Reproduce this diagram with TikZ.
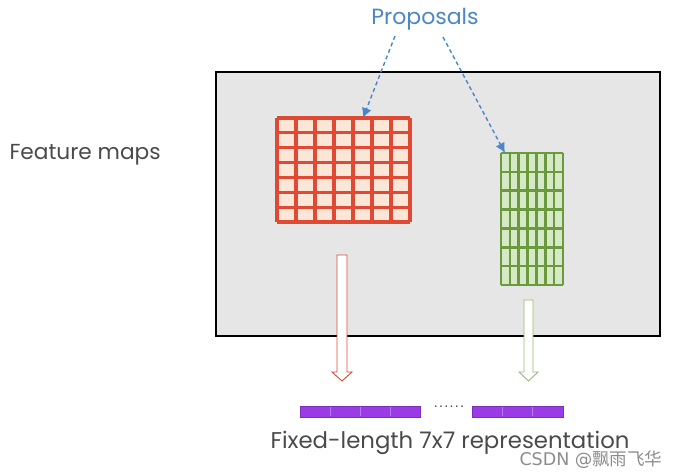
\documentclass[tikz,border=0pt]{standalone}
\usepackage{fontspec}
\setmainfont{Poppins}
\newfontfamily\cjk{Noto Sans CJK SC}
\newfontfamily\wmfont{DejaVu Sans}
\usetikzlibrary{arrows.meta}
\definecolor{bgray}{HTML}{E6E6E6}
\definecolor{gred}{HTML}{E04A35}
\definecolor{gredfill}{HTML}{FCE6D8}
\definecolor{ggreen}{HTML}{6B9A3E}
\definecolor{ggreenfill}{HTML}{D6E9C6}
\definecolor{pblue}{HTML}{4A86C8}
\definecolor{ppurple}{HTML}{9B3BE6}
\definecolor{pline}{HTML}{B77AF0}
\definecolor{tgray}{HTML}{4A4A4A}
\tikzset{
  dasharrow/.style={draw=pblue, line width=1.4pt, dash pattern=on 4pt off 3pt, -{Latex[length=10pt,width=10pt]}},
  hollowred/.style={draw=gred, fill=white, line width=0.9pt},
  hollowgreen/.style={draw=ggreen!70, fill=white, line width=0.9pt},
  bar/.style={fill=ppurple, draw=ppurple!80!black, line width=0.6pt},
  redline/.style={gred, line width=3.2pt},
  greenline/.style={ggreen, line width=2.6pt},
}
\begin{document}
\begin{tikzpicture}[x=1pt,y=-1pt]
\useasboundingbox (0,0) rectangle (678,476);
% feature map frame
\node[draw=black, line width=1.8pt, fill=bgray, minimum width=444pt, minimum height=264pt, inner sep=0pt, anchor=north west] (fm) at (215,71) {};
% red grid
\node[anchor=north west, minimum width=133pt, minimum height=104pt, inner sep=0pt, fill=gredfill] (rg) at (277,118) {};
\foreach \i in {0,...,7} {
  \draw[redline] (277+\i*19,118) -- (277+\i*19,222);
  \draw[redline] (277,118+\i*14.857) -- (410,118+\i*14.857);
}
% green grid
\node[anchor=north west, minimum width=62pt, minimum height=132pt, inner sep=0pt, fill=ggreenfill] (gg) at (501,153) {};
\foreach \i in {0,...,7} {
  \draw[greenline] (501+\i*8.857,153) -- (501+\i*8.857,285);
  \draw[greenline] (501,153+\i*18.857) -- (563,153+\i*18.857);
}
% labels
\node[text=pblue, font=\fontsize{22}{24}\selectfont] (prop) at (425,19) {Proposals};
\node[text=tgray, font=\fontsize{21.7}{24}\selectfont, anchor=west] (fmlabel) at (6,155) {Feature maps};
\coordinate (pa1) at (395,36);
\coordinate (pa2) at (443,37);
\draw[dasharrow] (pa1) -- (rg.north west -| 363,118);
\draw[dasharrow] (pa2) -- (gg.north west -| 505,153);
% hollow arrows
\draw[hollowred] (337,255) -- (347,255) -- (347,372) -- (352,372) -- (342,381) -- (332,372) -- (337,372) -- cycle;
\draw[hollowgreen] (524,300) -- (533,300) -- (533,372) -- (538,372) -- (528.5,381) -- (519,372) -- (524,372) -- cycle;
% bars
\node[bar, anchor=north west, minimum width=120pt, minimum height=11pt, inner sep=0pt] (b1) at (300,406) {};
\foreach \x in {330,360,390} \draw[pline, line width=0.8pt] (\x,407) -- (\x,416);
\node[bar, anchor=north west, minimum width=91pt, minimum height=11pt, inner sep=0pt] (b2) at (472,406) {};
\foreach \x in {502,532} \draw[pline, line width=0.8pt] (\x,407) -- (\x,416);
\node[text=tgray, font=\fontsize{14}{14}\selectfont] (dots) at (449,407) {.\,.\,.\,.\,.\,.};
\node[text=tgray, font=\fontsize{22.8}{26}\selectfont] (fixed) at (450,443) {Fixed-length 7x7 representation};
\node[text=black!45, font=\fontsize{17.5}{20}\selectfont, anchor=east] (wm) at (666,460) {\wmfont CSDN @{\cjk 飘雨飞华}};
\end{tikzpicture}
\end{document}
